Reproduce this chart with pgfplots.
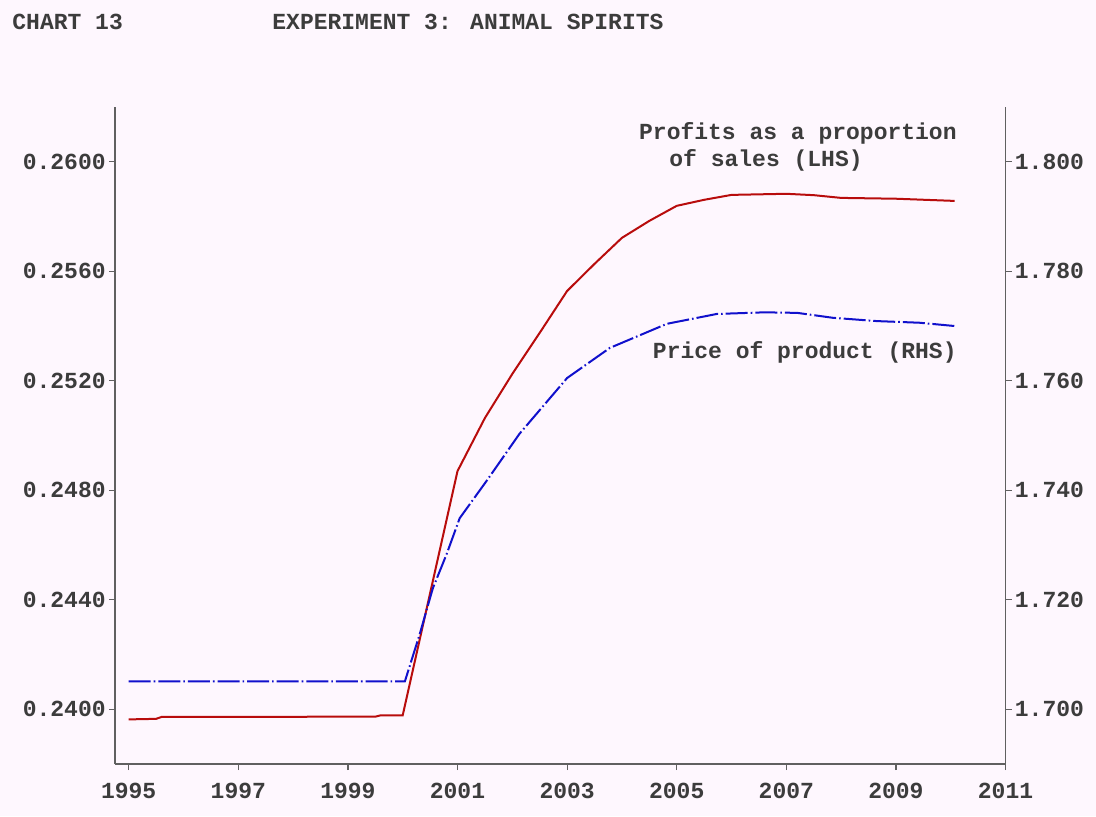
\documentclass[border=0pt]{standalone}
\usepackage{pgfplots}
\pgfplotsset{compat=1.18}
\usepackage{fontspec}
\setmainfont{Liberation Mono}
\setmonofont{Liberation Mono}

\definecolor{bgpink}{HTML}{FEF7FE}
\definecolor{txtgrey}{HTML}{3C3C3C}
\definecolor{axgrey}{HTML}{606060}
\definecolor{profred}{HTML}{B80C0C}
\definecolor{priceblue}{HTML}{1010CC}

% profits as a proportion of sales (LHS)
\pgfplotstableread{
year   val
1995.0 0.23963
1995.5 0.23965
1995.6 0.23972
1999.5 0.23973
1999.6 0.23978
2000.0 0.23978
2001.0 0.24870
2001.5 0.25064
2002.0 0.25225
2002.5 0.25375
2003.0 0.25528
2003.5 0.25627
2004.0 0.25722
2004.5 0.25784
2005.0 0.25839
2005.5 0.25861
2006.0 0.25879
2007.0 0.25883
2007.5 0.25878
2008.0 0.25868
2009.0 0.25865
2010.07 0.25857
}\profits

% price of product (RHS)
\pgfplotstableread{
year   val
1995.0 1.7051
2000.04 1.7051
2000.31 1.7137
2000.55 1.7221
2000.80 1.7283
2001.04 1.7349
2001.53 1.7417
2002.13 1.7503
2003.0 1.7605
2003.78 1.7660
2004.82 1.7704
2005.73 1.7722
2006.6 1.7725
2007.2 1.7724
2007.85 1.7715
2008.65 1.7709
2009.43 1.7706
2010.07 1.7700
}\price

\begin{document}
\begin{tikzpicture}[font=\bfseries\fontsize{11.5}{13}\selectfont, text=txtgrey]
\fill[bgpink] (0pt,0pt) rectangle (548pt,-408pt);

\begin{scope}[x=0.5pt,y=-0.5pt]
\node[anchor=west, inner sep=0pt] at (12,22) {CHART 13};
\node[anchor=west, inner sep=0pt] at (272,22) {EXPERIMENT 3: ANIMAL SPIRITS};
\node[anchor=east, inner sep=0pt] at (957,133) {Profits as a proportion};
\node[anchor=west, inner sep=0pt] at (669,160) {of sales (LHS)};
\node[anchor=east, inner sep=0pt] at (957,352) {Price of product (RHS)};
\end{scope}

\pgfplotsset{
  every axis/.style={
    scale only axis,
    width=445.25pt, height=328.5pt,
    at={(57.5pt,-382pt)}, anchor=south west,
    xmin=1994.75, xmax=2011,
    axis line style={axgrey, line width=0.8pt},
    tick style={axgrey, line width=0.6pt},
    tick align=outside,
    major tick length=3pt,
    tick label style={font=\bfseries\fontsize{11.5}{13}\selectfont, text=txtgrey},
    yticklabel style={inner sep=1.5pt},
    xticklabel style={yshift=-3pt},
    /pgf/number format/assume math mode=true,
    /pgf/number format/1000 sep={},
  },
}

\begin{axis}[
    axis x line*=bottom,
    axis y line*=left,
    ymin=0.238, ymax=0.262,
    xtick={1995,1997,...,2011},
    ytick={0.2400,0.2440,0.2480,0.2520,0.2560,0.2600},
    yticklabel style={/pgf/number format/.cd, fixed, fixed zerofill, precision=4},
    scaled y ticks=false,
]
\addplot[profred, line width=1pt] table[x=year, y=val] {\profits};
\end{axis}

\begin{axis}[
    axis x line=none,
    axis y line*=right,
    ymin=1.69, ymax=1.81,
    ytick={1.70,1.72,1.74,1.76,1.78,1.80},
    yticklabel style={/pgf/number format/.cd, fixed, fixed zerofill, precision=3},
    scaled y ticks=false,
]
\addplot[priceblue, line width=1pt, dash pattern=on 11pt off 1.5pt on 0.8pt off 1.5pt] table[x=year, y=val] {\price};
\end{axis}
\end{tikzpicture}
\end{document}
